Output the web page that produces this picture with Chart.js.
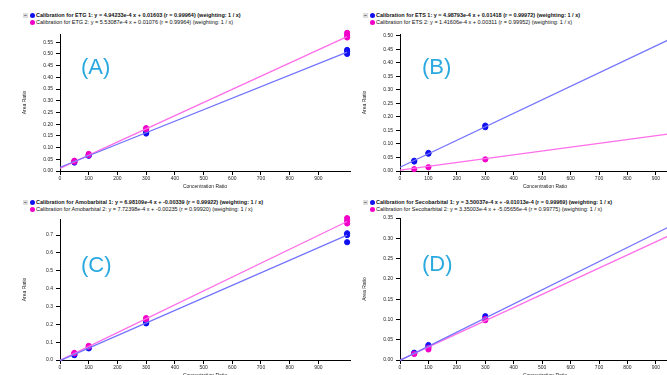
<!DOCTYPE html>
<html>
<head>
<meta charset="utf-8">
<script src="https://cdn.jsdelivr.net/npm/chart.js@4.4.1/dist/chart.umd.min.js"></script>
<style>
  html, body { margin: 0; padding: 0; background: #fff; }
  body { width: 667px; height: 375px; overflow: hidden; position: relative; font-family: "Liberation Sans", Arial, sans-serif; }
  canvas { position: absolute; }
  .legend { position: absolute; font-size: 5.5px; line-height: 7px; color: #111; white-space: nowrap; }
  .legend .row { position: relative; height: 7px; padding-left: 13px; }
  .legend .row.b { font-weight: bold; }
  .legend .dot { position: absolute; left: 7px; top: 1px; width: 5px; height: 5px; border-radius: 50%; }
  .legend .box { position: absolute; left: 0; top: 1px; width: 5px; height: 5px; background: #ddd; font-size: 5px; line-height: 5px; text-align: center; color: #333; }
  .tag { position: absolute; font-size: 22px; line-height: 22px; color: #2aa9e0; }
</style>
</head>
<body>
<div class="legend" style="left:23px;top:12px">
  <div class="row b"><span class="box">−</span><span class="dot" style="background:#1010f0"></span>Calibration for ETG 1: y = 4.94233e-4 x + 0.01603 (r = 0.99964) (weighting: 1 / x)</div>
  <div class="row"><span class="dot" style="background:#f000c8"></span>Calibration for ETG 2: y = 5.53087e-4 x + 0.01076 (r = 0.99964) (weighting: 1 / x)</div>
</div>
<div class="legend" style="left:363px;top:12px">
  <div class="row b"><span class="box">−</span><span class="dot" style="background:#1010f0"></span>Calibration for ETS 1: y = 4.98793e-4 x + 0.01418 (r = 0.99972) (weighting: 1 / x)</div>
  <div class="row"><span class="dot" style="background:#f000c8"></span>Calibration for ETS 2: y = 1.41606e-4 x + 0.00311 (r = 0.99952) (weighting: 1 / x)</div>
</div>
<div class="legend" style="left:23px;top:199px">
  <div class="row b"><span class="box">−</span><span class="dot" style="background:#1010f0"></span>Calibration for Amobarbital 1: y = 6.98109e-4 x + -0.00339 (r = 0.99922) (weighting: 1 / x)</div>
  <div class="row"><span class="dot" style="background:#f000c8"></span>Calibration for Amobarbital 2: y = 7.72398e-4 x + -0.00235 (r = 0.99920) (weighting: 1 / x)</div>
</div>
<div class="legend" style="left:363px;top:199px">
  <div class="row b"><span class="box">−</span><span class="dot" style="background:#1010f0"></span>Calibration for Secobarbital 1: y = 3.50037e-4 x + -9.01013e-4 (r = 0.99969) (weighting: 1 / x)</div>
  <div class="row"><span class="dot" style="background:#f000c8"></span>Calibration for Secobarbital 2: y = 3.35003e-4 x + -5.05656e-4 (r = 0.99775) (weighting: 1 / x)</div>
</div>

<canvas id="chartA" width="345" height="165" style="left:15px;top:28px"></canvas>
<canvas id="chartB" width="345" height="165" style="left:355px;top:28px"></canvas>
<canvas id="chartC" width="345" height="169" style="left:15px;top:213px"></canvas>
<canvas id="chartD" width="345" height="170" style="left:355px;top:212px"></canvas>

<div class="tag" style="left:81px;top:56px">(A)</div>
<div class="tag" style="left:422px;top:56px">(B)</div>
<div class="tag" style="left:81px;top:254px">(C)</div>
<div class="tag" style="left:422px;top:253px">(D)</div>

<script>
// Achsenbeschriftungen
const xTicks = [0, 100, 200, 300, 400, 500, 600, 700, 800, 900];
const yTicksA = [0, 0.05, 0.10, 0.15, 0.20, 0.25, 0.30, 0.35, 0.40, 0.45, 0.50, 0.55];
const yTicksB = [0, 0.05, 0.10, 0.15, 0.20, 0.25, 0.30, 0.35, 0.40, 0.45, 0.50];
const yTicksC = [0, 0.1, 0.2, 0.3, 0.4, 0.5, 0.6, 0.7];
const yTicksD = [0, 0.05, 0.10, 0.15, 0.20, 0.25, 0.30, 0.35];

// Geradenenden (Konzentration 0 und 1000)
const fitX = [0, 1000];

// (A) ETG
const etg1X = [50, 50, 100, 100, 300, 300, 1000, 1000, 1000];
const etg1Y = [0.036, 0.040, 0.065, 0.069, 0.160, 0.165, 0.500, 0.510, 0.517];
const etg2X = [50, 50, 100, 100, 300, 300, 1000, 1000, 1000];
const etg2Y = [0.040, 0.044, 0.068, 0.073, 0.178, 0.183, 0.570, 0.580, 0.590];
const etg1Fit = [0.016, 0.508];
const etg2Fit = [0.011, 0.574];

// (B) ETS
const ets1X = [50, 50, 100, 100, 300, 300];
const ets1Y = [0.035, 0.038, 0.064, 0.067, 0.162, 0.168];
const ets2X = [50, 100, 300];
const ets2Y = [0.007, 0.014, 0.043];
const ets1Fit = [0.014, 0.513];
const ets2Fit = [0.003, 0.145];

// (C) Amobarbital
const amo1X = [50, 50, 100, 100, 300, 300, 1000, 1000, 1000];
const amo1Y = [0.027, 0.030, 0.065, 0.068, 0.205, 0.212, 0.660, 0.700, 0.710];
const amo2X = [50, 50, 100, 100, 300, 300, 1000, 1000, 1000];
const amo2Y = [0.037, 0.040, 0.075, 0.079, 0.228, 0.235, 0.765, 0.780, 0.795];
const amo1Fit = [-0.003, 0.700];
const amo2Fit = [-0.002, 0.776];

// (D) Secobarbital
const seco1X = [50, 50, 100, 100, 300, 300];
const seco1Y = [0.016, 0.018, 0.034, 0.037, 0.102, 0.108];
const seco2X = [50, 100, 100, 300, 300];
const seco2Y = [0.015, 0.026, 0.030, 0.098, 0.101];
const seco1Fit = [-0.001, 0.347];
const seco2Fit = [-0.0005, 0.324];

const BLUE = '#1010f0', PINK = '#f000c8';
const BLUE_LINE = '#7474ff', PINK_LINE = '#ff6ee8';

function pts(xs, ys) {
  return xs.map((x, i) => ({ x: x, y: ys[i] }));
}

function panel(id, xMax, yMax, yTicks, dec, s1x, s1y, s2x, s2y, f1, f2) {
  const font = { family: 'Liberation Sans, Arial, sans-serif', size: 5 };
  const tickGrid = { display: true, drawOnChartArea: false, drawTicks: true, tickLength: 4, color: '#000', lineWidth: 1 };
  new Chart(document.getElementById(id), {
    type: 'scatter',
    data: {
      datasets: [
        { data: pts(fitX, f1), showLine: true, borderColor: BLUE_LINE, borderWidth: 1.3, pointRadius: 0, clip: false },
        { data: pts(fitX, f2), showLine: true, borderColor: PINK_LINE, borderWidth: 1.3, pointRadius: 0, clip: false },
        { data: pts(s2x, s2y), backgroundColor: PINK, borderColor: PINK, pointRadius: 2.6, clip: false },
        { data: pts(s1x, s1y), backgroundColor: BLUE, borderColor: BLUE, pointRadius: 2.6, clip: false }
      ]
    },
    options: {
      responsive: false,
      animation: false,
      layout: { padding: { top: 4, right: 10, left: 0, bottom: 0 } },
      plugins: { legend: { display: false }, tooltip: { enabled: false } },
      scales: {
        x: {
          min: 0, max: xMax,
          grid: tickGrid,
          border: { display: true, color: '#000', width: 1 },
          ticks: { font: font, color: '#222', padding: 1, maxRotation: 0, autoSkip: false },
          afterBuildTicks: s => { s.ticks = xTicks.map(v => ({ value: v })); },
          afterFit: s => { s.height = 22; },
          title: { display: true, text: 'Concentration Ratio', font: font, color: '#222', padding: { top: 0, bottom: 3 } }
        },
        y: {
          min: 0, max: yMax,
          grid: tickGrid,
          border: { display: true, color: '#000', width: 1 },
          ticks: { font: font, color: '#222', padding: 3, autoSkip: false, callback: v => v.toFixed(dec) },
          afterBuildTicks: s => { s.ticks = yTicks.map(v => ({ value: v })); },
          afterFit: s => { s.width = 45; },
          title: { display: true, text: 'Area Ratio', font: font, color: '#222', padding: { top: 7, bottom: 0 } }
        }
      }
    }
  });
}

panel('chartA', 1010, 0.585, yTicksA, 2, etg1X, etg1Y, etg2X, etg2Y, etg1Fit, etg2Fit);
panel('chartB', 1020, 0.507, yTicksB, 2, ets1X, ets1Y, ets2X, ets2Y, ets1Fit, ets2Fit);
panel('chartC', 1010, 0.79, yTicksC, 1, amo1X, amo1Y, amo2X, amo2Y, amo1Fit, amo2Fit);
panel('chartD', 1020, 0.35, yTicksD, 2, seco1X, seco1Y, seco2X, seco2Y, seco1Fit, seco2Fit);
</script>
</body>
</html>
